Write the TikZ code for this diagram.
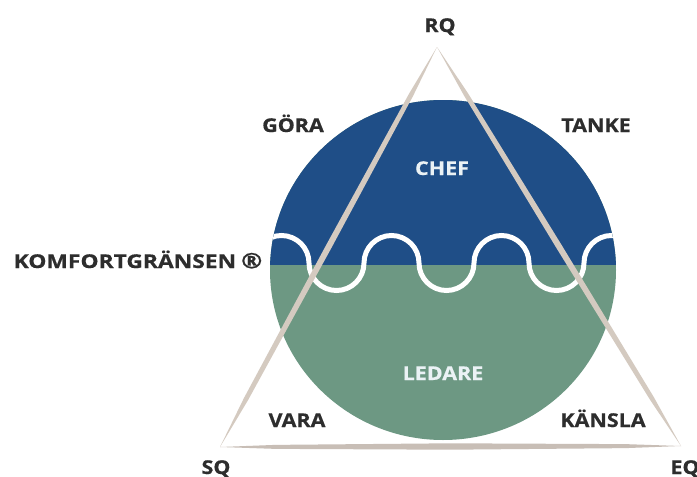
\documentclass[tikz,border=0pt]{standalone}
\usepackage{fontspec}
\newfontfamily\lblfont{Open Sans}[FakeStretch=1.13,FakeBold=0.6]
\newfontfamily\widefont{Open Sans}[FakeStretch=1.2,FakeBold=0.6]
\usetikzlibrary{calc}
\definecolor{chefblue}{RGB}{31,78,135}
\definecolor{ledgreen}{RGB}{109,152,131}
\definecolor{triline}{RGB}{212,202,192}
\definecolor{basegray}{RGB}{200,190,182}
\definecolor{txt}{RGB}{45,45,45}
\definecolor{lighttxt}{RGB}{235,242,245}
\newcommand\brushstroke[5]{%
 \fill[#5] (#1)
  -- ($(#1)!0.12!(#2)!#4!90:(#2)$)
  -- ($(#1)!0.5!(#2)!#3!90:(#2)$)
  -- ($(#1)!0.88!(#2)!#4!90:(#2)$)
  -- (#2)
  -- ($(#1)!0.88!(#2)!#4!-90:(#2)$)
  -- ($(#1)!0.5!(#2)!#3!-90:(#2)$)
  -- ($(#1)!0.12!(#2)!#4!-90:(#2)$)
  -- cycle;}
\begin{document}
\begin{tikzpicture}[x=1pt,y=-1pt,
  lbl/.style={font=\lblfont\bfseries\fontsize{19}{19}\selectfont, text=txt, anchor=base, inner sep=0pt},
  widelbl/.style={lbl, font=\widefont\bfseries\fontsize{19}{19}\selectfont},
  inlbl/.style={lbl, text=lighttxt}]
\useasboundingbox (0,0) rectangle (697,477);
\fill[white] (0,0) rectangle (697,477);
\coordinate (C) at (443,270);
\fill[ledgreen] (C) ellipse [x radius=173, y radius=170];
\begin{scope}
  \clip (C) ellipse [x radius=173, y radius=170];
  \fill[chefblue] (250,90) rectangle (640,265);
  \draw[white, line width=5pt] (254,263)
    arc[start angle=180,end angle=360,radius=27.5]
    arc[start angle=180,end angle=0,radius=27.5]
    arc[start angle=180,end angle=360,radius=27.5]
    arc[start angle=180,end angle=0,radius=27.5]
    arc[start angle=180,end angle=360,radius=27.5]
    arc[start angle=180,end angle=0,radius=27.5]
    arc[start angle=180,end angle=360,radius=27.5];
\end{scope}
\coordinate (RQv) at (437,47);
\coordinate (SQv) at (220,447);
\coordinate (EQv) at (681,446);
\brushstroke{RQv}{SQv}{3pt}{2.3pt}{triline}
\brushstroke{RQv}{EQv}{3pt}{2.3pt}{triline}
\brushstroke{SQv}{EQv}{3.2pt}{2pt}{basegray}
\node[lbl] (rq) at (440,32) {RQ};
\node[lbl] (gora) at (293,132) {GÖRA};
\node[lbl] (tanke) at (596,132) {TANKE};
\node[inlbl] (chef) at (442,175) {CHEF};
\node[widelbl] (komf) at (138,268) {KOMFORTGRÄNSEN\kern5pt\raisebox{-0.3pt}{\scalebox{1.12}{®}}};
\node[inlbl] (ledare) at (443,380) {LEDARE};
\node[lbl] (vara) at (297,427) {VARA};
\node[lbl] (kansla) at (603,427) {KÄNSLA};
\node[lbl] (sq) at (216,474) {SQ};
\node[lbl] (eq) at (685,474) {EQ};
\end{tikzpicture}
\end{document}
